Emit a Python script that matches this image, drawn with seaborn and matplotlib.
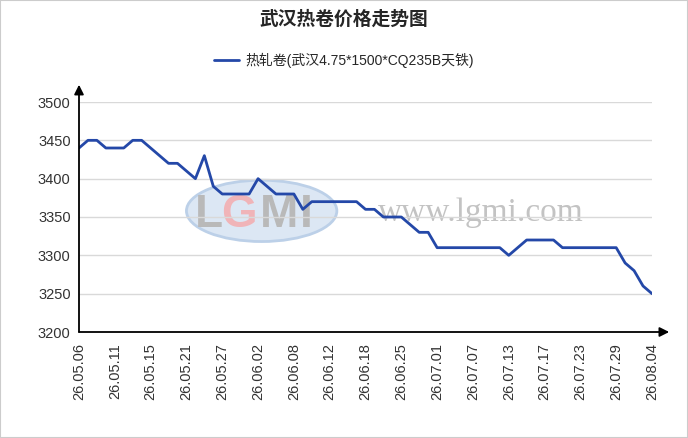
import pandas as pd
import seaborn as sns
import matplotlib.pyplot as plt
from matplotlib.patches import Ellipse, Rectangle

# trading days 2026-05-06 .. 2026-08-04
dates = (
    ["26.05." + d for d in ["06", "07", "08", "09", "11", "12", "13", "14", "15", "18",
                            "19", "20", "21", "22", "25", "26", "27", "28", "29"]]
    + ["26.06." + d for d in ["01", "02", "03", "04", "05", "08", "09", "10", "11", "12",
                              "15", "16", "17", "18", "22", "23", "24", "25", "26", "29", "30"]]
    + ["26.07." + d for d in ["01", "02", "03", "06", "07", "08", "09", "10", "13", "14",
                              "15", "16", "17", "20", "21", "22", "23", "24", "27", "28",
                              "29", "30", "31"]]
    + ["26.08." + d for d in ["03", "04"]]
)

prices = [
    3440, 3450, 3450, 3440, 3440, 3440, 3450, 3450, 3440, 3430,
    3420, 3420, 3410, 3400, 3430, 3390, 3380, 3380, 3380, 3380,
    3400, 3390, 3380, 3380, 3380, 3360, 3370, 3370, 3370, 3370,
    3370, 3370, 3360, 3360, 3350, 3350, 3350, 3340, 3330, 3330,
    3310, 3310, 3310, 3310, 3310, 3310, 3310, 3310, 3300, 3310,
    3320, 3320, 3320, 3320, 3310, 3310, 3310, 3310, 3310, 3310,
    3310, 3290, 3280, 3260, 3250,
]

series_name = "热轧卷(武汉4.75*1500*CQ235B天铁)"
title = "武汉热卷价格走势图"
y_ticks = [3200, 3250, 3300, 3350, 3400, 3450, 3500]

df = pd.DataFrame({"idx": range(len(dates)), "date": dates, "price": prices})

sns.set_style("white")
plt.rcParams["font.family"] = ["Liberation Sans", "Noto Sans CJK SC", "DejaVu Sans"]

fig = plt.figure(figsize=(6.88, 4.38), dpi=100)
ax = fig.add_axes([79 / 688, 106 / 438, 573 / 688, 230 / 438])

# watermark (LGMI logo + url)
ax.add_patch(Ellipse((20.4, 3358), 16.8, 80, facecolor="#dce7f4",
                     edgecolor="#bcd0e8", linewidth=2, zorder=0))
logo_parts = [("L", 14.5, "#b9b9b9"), ("G", 17.9, "#f0b4b8"),
              ("M", 22.3, "#b9b9b9"), ("I", 25.4, "#b9b9b9")]
for ch, xpos, col in logo_parts:
    ax.text(xpos, 3352, ch, fontsize=33, color=col, ha="center", va="center",
            fontweight="bold", family="Liberation Sans", zorder=0)
ax.text(44.9, 3356, "www.lgmi.com", fontsize=24, color="#c3c3c3", ha="center",
        va="center", family="Liberation Serif", zorder=0)

sns.lineplot(data=df, x="idx", y="price", color="#2448a8", linewidth=2.0,
             label=series_name, ax=ax, zorder=3)

ax.set_xlim(0, len(dates) - 1)
ax.set_ylim(3200, 3500)
ax.set_yticks(y_ticks)
ax.set_yticklabels([str(v) for v in y_ticks], fontsize=10.5, color="#333333")
tick_pos = list(range(0, len(dates), 4))
ax.set_xticks(tick_pos)
ax.set_xticklabels([dates[i] for i in tick_pos], rotation=90, fontsize=10.5,
                   color="#333333")
ax.tick_params(axis="y", direction="in", length=5, width=1, color="black", pad=6)
ax.tick_params(axis="x", direction="out", length=4, width=1, color="#555555", pad=4)
ax.set_xlabel("")
ax.set_ylabel("")

for v in y_ticks[1:]:
    ax.axhline(v, color="#d9d9d9", linewidth=1, zorder=1)

for s in ["top", "right", "left", "bottom"]:
    ax.spines[s].set_visible(False)

# axes with arrow heads
ax.annotate("", xy=(0, 1.075), xytext=(0, 0), xycoords="axes fraction",
            arrowprops=dict(arrowstyle="-|>", color="black", lw=1.3,
                            mutation_scale=14, shrinkA=0, shrinkB=0))
ax.annotate("", xy=(1.03, 0), xytext=(0, 0), xycoords="axes fraction",
            arrowprops=dict(arrowstyle="-|>", color="black", lw=1.3,
                            mutation_scale=14, shrinkA=0, shrinkB=0))

handles, labels = ax.get_legend_handles_labels()
ax.get_legend().remove()
fig.legend(handles, labels, loc="center", bbox_to_anchor=(0.5, 1 - 60 / 438),
           frameon=False, fontsize=10, handlelength=1.8, handletextpad=0.5)
fig.text(0.5, 1 - 19 / 438, title, ha="center", va="center", fontsize=13.5,
         fontweight="bold", family=["Noto Sans CJK SC", "DejaVu Sans"])

fig.patches.append(Rectangle((0, 0), 1, 1, transform=fig.transFigure, fill=False,
                             edgecolor="#cccccc", linewidth=1.5))

fig.savefig("out.png", dpi=100)
